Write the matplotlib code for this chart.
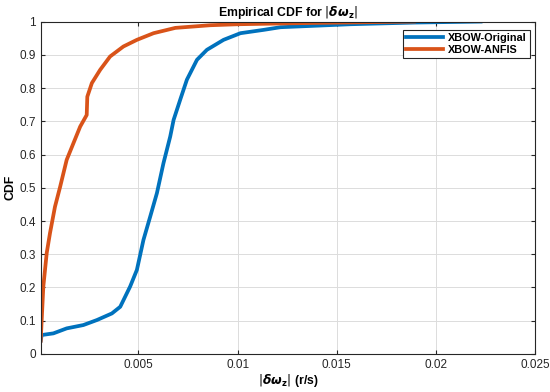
import numpy as np
import matplotlib.pyplot as plt

plt.rcParams['font.family'] = ['Liberation Sans', 'DejaVu Sans']
plt.rcParams['mathtext.fontset'] = 'dejavusans'

# values
orig_x = [0.00007, 0.00012, 0.00071, 0.00138, 0.00222, 0.0029, 0.00366, 0.00408,
          0.00458, 0.00492, 0.00525, 0.00559, 0.00593, 0.00626, 0.0066, 0.00677,
          0.00711, 0.00744, 0.00795, 0.00845, 0.00929, 0.01014, 0.01131, 0.01216,
          0.0157, 0.0189, 0.02225]
orig_y = [0.04, 0.057, 0.062, 0.077, 0.087, 0.102, 0.122, 0.142,
          0.203, 0.253, 0.343, 0.413, 0.484, 0.574, 0.654, 0.704,
          0.766, 0.825, 0.885, 0.915, 0.945, 0.965, 0.975, 0.983,
          0.992, 0.997, 1.0]

anfis_x = [0.00007, 0.000202, 0.000374, 0.00054, 0.00079, 0.00105, 0.00138, 0.00172,
           0.00206, 0.00239, 0.00242, 0.00265, 0.00307, 0.00357, 0.00424, 0.00492,
           0.00576, 0.00686, 0.00863, 0.01005, 0.01393, 0.01889]
anfis_y = [0.04, 0.2025, 0.304, 0.364, 0.443, 0.503, 0.584, 0.634,
           0.684, 0.719, 0.774, 0.815, 0.855, 0.895, 0.925, 0.945,
           0.965, 0.981, 0.989, 0.992, 0.996, 1.0]

xticks = [0.005, 0.01, 0.015, 0.02, 0.025]
yticks = np.round(np.arange(0, 1.01, 0.1), 1)

fig = plt.figure(figsize=(5.5, 3.92), dpi=100)
ax = fig.add_axes([0.074, 0.097, 0.899, 0.848])

ax.plot(orig_x, orig_y, color='#0072BD', lw=2.7, label='XBOW-Original')
ax.plot(anfis_x, anfis_y, color='#D95319', lw=2.7, label='XBOW-ANFIS')

ax.set_xlim(0.00007, 0.025)
ax.set_ylim(0, 1)
ax.set_xticks(xticks)
ax.set_xticklabels([f'{t:g}' for t in xticks])
ax.set_yticks(yticks)
ax.set_yticklabels([f'{t:g}' for t in yticks])
ax.tick_params(direction='in', labelsize=8.5, length=3, top=True, right=True,
               colors='#262626')
ax.grid(True, color='#dcdcdc', lw=0.7)
for s in ax.spines.values():
    s.set_color('#262626')
    s.set_linewidth(0.8)

ax.set_title(r'Empirical CDF for $|\mathbfit{\delta\omega}_\mathbf{z}|$', fontsize=8.8,
             fontweight='bold', pad=4)
ax.set_xlabel(r'$|\mathbfit{\delta\omega}_\mathbf{z}|$ (r/s)', fontsize=8.8,
              fontweight='bold', labelpad=1)
ax.set_ylabel('CDF', fontsize=8.8, fontweight='bold', labelpad=2)

leg = ax.legend(loc='upper right', bbox_to_anchor=(0.99, 0.975), borderaxespad=0,
                fancybox=False, framealpha=1, edgecolor='#262626',
                handlelength=3.4, labelspacing=0.15, handletextpad=0.5,
                borderpad=0.3, prop={'weight': 'bold', 'size': 7.8})
leg.get_frame().set_linewidth(0.8)

fig.savefig('out.png', dpi=100)
